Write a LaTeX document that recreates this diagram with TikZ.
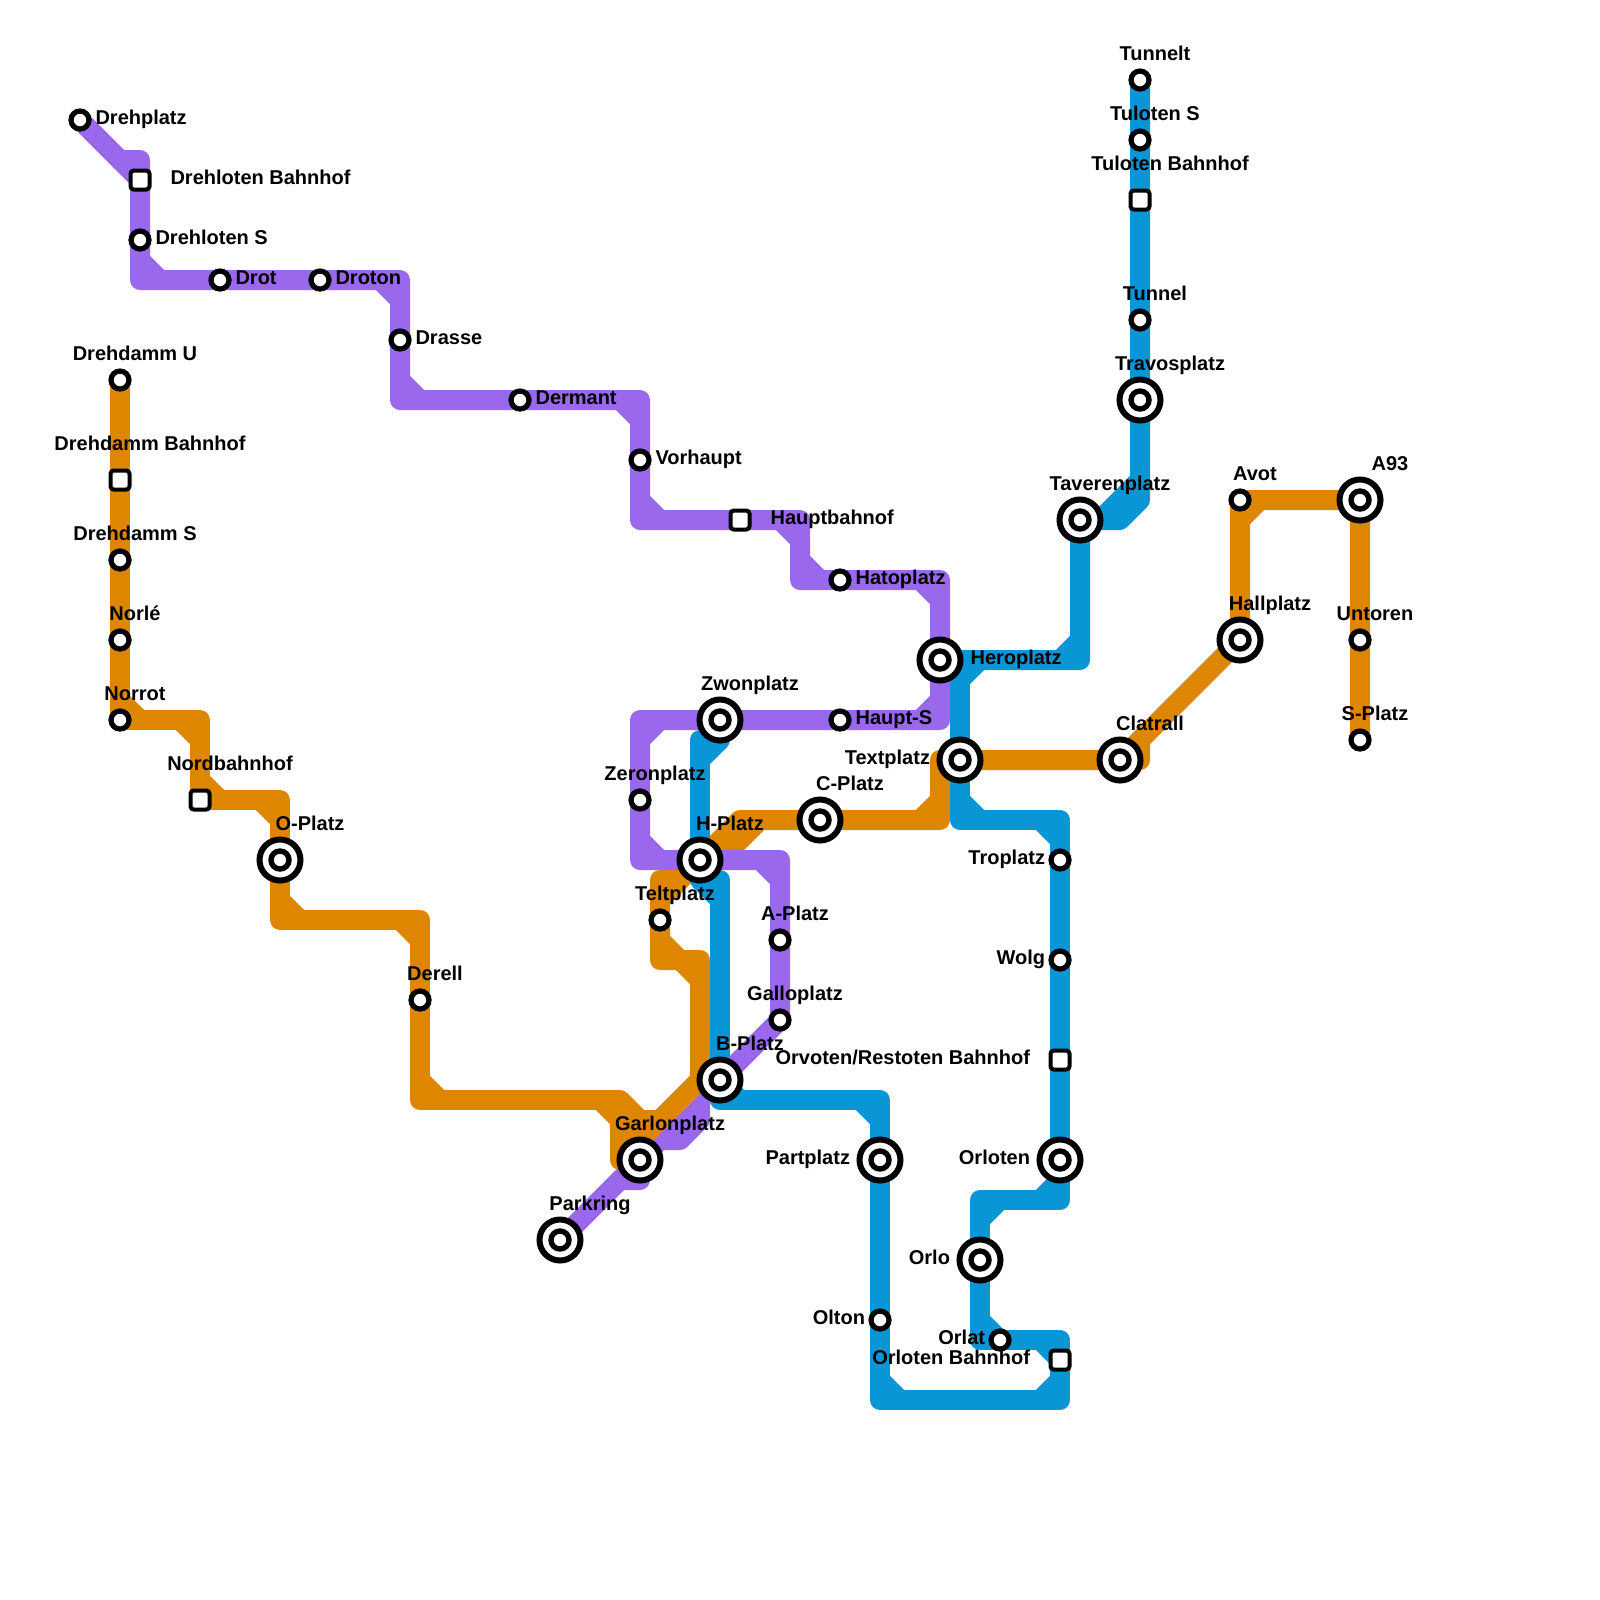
\documentclass[tikz,border=0pt]{standalone}
\usepackage{fontspec}
\setmainfont{Liberation Sans}
\usetikzlibrary{backgrounds}
\definecolor{purpleline}{HTML}{9968EC}
\definecolor{orangeline}{HTML}{DF8600}
\definecolor{blueline}{HTML}{0896D7}
\tikzset{
  smallstop/.style={circle, draw=black, fill=white, line width=0.065cm, inner sep=0pt, minimum size=0.225cm},
  bigstop/.style={circle, draw=black, fill=white, line width=0.075cm, inner sep=0pt, minimum size=0.5125cm,
    path picture={\draw[line width=0.0675cm] (path picture bounding box.center) circle (0.1125cm);}},
  squarestop/.style={rectangle, rounded corners=0.04cm, draw=black, fill=white, line width=0.05cm, inner sep=0pt, minimum size=0.2375cm},
  lab/.style={font=\fontsize{7.11}{8.5}\selectfont\bfseries, inner sep=0pt},
  smalltop/.style={lab, anchor=base, xshift=0.1875cm, yshift=0.25cm},
  bigtop/.style={lab, anchor=base, xshift=0.375cm, yshift=0.375cm},
  smallright/.style={lab, anchor=base west, xshift=0.1875cm, yshift=-0.06cm},
  bigright/.style={lab, anchor=base west, xshift=0.375cm, yshift=-0.06cm},
  smallleft/.style={lab, anchor=base east, xshift=-0.18cm, yshift=-0.06cm},
  bigleft/.style={lab, anchor=base east, xshift=-0.368cm, yshift=-0.06cm},
  purplepath/.style={draw=purpleline, line width=0.25cm, line join=round},
  orangepath/.style={draw=orangeline, line width=0.25cm, line join=round},
  bluepath/.style={draw=blueline, line width=0.25cm, line join=round}
}
\begin{document}
\begin{tikzpicture}[x=0.25cm, y=-0.25cm]
  \useasboundingbox (0,0) rectangle (80,80);
  % purple stations
  \node[smallstop] (drehplatz) at (4,6) {}; \node[smallright] (drehplatzlab) at (drehplatz) {Drehplatz};
  \node[squarestop] (drehlotenb) at (7,9) {}; \node[bigright] (drehlotenblab) at (drehlotenb) {Drehloten Bahnhof};
  \node[smallstop] (drehlotens) at (7,12) {}; \node[smallright] (drehlotenslab) at (drehlotens) {Drehloten S};
  \node[smallstop] (drot) at (11,14) {}; \node[smallright] (drotlab) at (drot) {Drot};
  \node[smallstop] (droton) at (16,14) {}; \node[smallright] (drotonlab) at (droton) {Droton};
  \node[smallstop] (drasse) at (20,17) {}; \node[smallright] (drasselab) at (drasse) {Drasse};
  \node[smallstop] (dermant) at (26,20) {}; \node[smallright] (dermantlab) at (dermant) {Dermant};
  \node[smallstop] (vorhaupt) at (32,23) {}; \node[smallright] (vorhauptlab) at (vorhaupt) {Vorhaupt};
  \node[squarestop] (hauptb) at (37,26) {}; \node[bigright] (hauptblab) at (hauptb) {Hauptbahnof};
  \node[smallstop] (hatoplatz) at (42,29) {}; \node[smallright] (hatoplatzlab) at (hatoplatz) {Hatoplatz};
  \node[bigstop] (heroplatz) at (47,33) {}; \node[bigright] (heroplatzlab) at (heroplatz) {Heroplatz};
  \node[smallstop] (haupts) at (42,36) {}; \node[smallright] (hauptslab) at (haupts) {Haupt-S};
  \node[bigstop] (zwonplatz) at (36,36) {}; \node[bigtop] (zwonplatzlab) at (zwonplatz) {Zwonplatz};
  \node[smallstop] (zeronplatz) at (32,40) {}; \node[smalltop] (zeronplatzlab) at (zeronplatz) {Zeronplatz};
  \node[bigstop] (hplatz) at (35,43) {}; \node[bigtop] (hplatzlab) at (hplatz) {H-Platz};
  \node[smallstop] (aplatz) at (39,47) {}; \node[smalltop] (aplatzlab) at (aplatz) {A-Platz};
  \node[smallstop] (galloplatz) at (39,51) {}; \node[smalltop] (galloplatzlab) at (galloplatz) {Galloplatz};
  \node[bigstop] (bplatz) at (36,54) {}; \node[bigtop] (bplatzlab) at (bplatz) {B-Platz};
  \node[bigstop] (garlonplatz) at (32,58) {}; \node[bigtop] (garlonplatzlab) at (garlonplatz) {Garlonplatz};
  \node[bigstop] (parkring) at (28,62) {}; \node[bigtop] (parkringlab) at (parkring) {Parkring};
  % orange stations
  \node[smallstop] (drehdammu) at (6,19) {}; \node[smalltop] (drehdammulab) at (drehdammu) {Drehdamm U};
  \node[squarestop] (drehdammb) at (6,24) {}; \node[bigtop] (drehdammblab) at (drehdammb) {Drehdamm Bahnhof};
  \node[smallstop] (drehdamms) at (6,28) {}; \node[smalltop] (drehdammslab) at (drehdamms) {Drehdamm S};
  \node[smallstop] (norle) at (6,32) {}; \node[smalltop] (norlelab) at (norle) {Norlé};
  \node[smallstop] (norrot) at (6,36) {}; \node[smalltop] (norrotlab) at (norrot) {Norrot};
  \node[squarestop] (nordb) at (10,40) {}; \node[bigtop] (nordblab) at (nordb) {Nordbahnhof};
  \node[bigstop] (oplatz) at (14,43) {}; \node[bigtop] (oplatzlab) at (oplatz) {O-Platz};
  \node[smallstop] (derell) at (21,50) {}; \node[smalltop] (derelllab) at (derell) {Derell};
  \node[smallstop] (teltplatz) at (33,46) {}; \node[smalltop] (teltplatzlab) at (teltplatz) {Teltplatz};
  \node[bigstop] (cplatz) at (41,41) {}; \node[bigtop] (cplatzlab) at (cplatz) {C-Platz};
  \node[bigstop] (textplatz) at (48,38) {}; \node[bigleft] (textplatzlab) at (textplatz) {Textplatz};
  \node[bigstop] (clatrall) at (56,38) {}; \node[bigtop] (clatralllab) at (clatrall) {Clatrall};
  \node[bigstop] (hallplatz) at (62,32) {}; \node[bigtop] (hallplatzlab) at (hallplatz) {Hallplatz};
  \node[smallstop] (avot) at (62,25) {}; \node[smalltop] (avotlab) at (avot) {Avot};
  \node[bigstop] (aneun) at (68,25) {}; \node[bigtop] (aneunlab) at (aneun) {A93};
  \node[smallstop] (untoren) at (68,32) {}; \node[smalltop] (untorenlab) at (untoren) {Untoren};
  \node[smallstop] (splatz) at (68,37) {}; \node[smalltop] (splatzlab) at (splatz) {S-Platz};
  % blue stations
  \node[smallstop] (tunnelt) at (57,4) {}; \node[smalltop] (tunneltlab) at (tunnelt) {Tunnelt};
  \node[smallstop] (tulotens) at (57,7) {}; \node[smalltop] (tulotenslab) at (tulotens) {Tuloten S};
  \node[squarestop] (tulotenb) at (57,10) {}; \node[bigtop] (tulotenblab) at (tulotenb) {Tuloten Bahnhof};
  \node[smallstop] (tunnel) at (57,16) {}; \node[smalltop] (tunnellab) at (tunnel) {Tunnel};
  \node[bigstop] (travosplatz) at (57,20) {}; \node[bigtop] (travosplatzlab) at (travosplatz) {Travosplatz};
  \node[bigstop] (taverenplatz) at (54,26) {}; \node[bigtop] (taverenplatzlab) at (taverenplatz) {Taverenplatz};
  \node[smallstop] (troplatz) at (53,43) {}; \node[smallleft] (troplatzlab) at (troplatz) {Troplatz};
  \node[smallstop] (wolg) at (53,48) {}; \node[smallleft] (wolglab) at (wolg) {Wolg};
  \node[squarestop] (orvotenb) at (53,53) {}; \node[bigleft] (orvotenblab) at (orvotenb) {Orvoten/Restoten Bahnhof};
  \node[bigstop] (orloten) at (53,58) {}; \node[bigleft] (orlotenlab) at (orloten) {Orloten};
  \node[bigstop] (orlo) at (49,63) {}; \node[bigleft] (orlolab) at (orlo) {Orlo};
  \node[smallstop] (orlat) at (50,67) {}; \node[smallleft] (orlatlab) at (orlat) {Orlat};
  \node[squarestop] (orlotenb) at (53,68) {}; \node[bigleft] (orlotenblab) at (orlotenb) {Orloten Bahnhof};
  \node[smallstop] (olton) at (44,66) {}; \node[smallleft] (oltonlab) at (olton) {Olton};
  \node[bigstop] (partplatz) at (44,58) {}; \node[bigleft] (partplatzlab) at (partplatz) {Partplatz};
  % bends
  \coordinate (pc1) at (6,8);
  \coordinate (pc2) at (7,8);
  \coordinate (pc3) at (7,14);
  \coordinate (pc4) at (20,14);
  \coordinate (pc5) at (20,20);
  \coordinate (pc6) at (32,20);
  \coordinate (pc7) at (32,26);
  \coordinate (pc8) at (40,26);
  \coordinate (pc9) at (40,29);
  \coordinate (pc10) at (47,29);
  \coordinate (pc11) at (47,36);
  \coordinate (pc12) at (32,36);
  \coordinate (pc13) at (32,43);
  \coordinate (pc14) at (39,43);
  \coordinate (pc15) at (35,55);
  \coordinate (pc16) at (35,56);
  \coordinate (pc17) at (34,57);
  \coordinate (pc18) at (32,57);
  \coordinate (pc19) at (32,59);
  \coordinate (pc20) at (31,59);
  \coordinate (oc1) at (10,36);
  \coordinate (oc2) at (14,40);
  \coordinate (oc3) at (14,46);
  \coordinate (oc4) at (21,46);
  \coordinate (oc5) at (21,55);
  \coordinate (oc6) at (31,55);
  \coordinate (oc7) at (31,58);
  \coordinate (oc8) at (32,56);
  \coordinate (oc9) at (33,56);
  \coordinate (oc10) at (35,54);
  \coordinate (oc11) at (35,48);
  \coordinate (oc12) at (33,48);
  \coordinate (oc13) at (33,44);
  \coordinate (oc14) at (34,44);
  \coordinate (oc15) at (37,41);
  \coordinate (oc16) at (47,41);
  \coordinate (oc17) at (47,38);
  \coordinate (oc18) at (57,38);
  \coordinate (oc19) at (57,37);
  \coordinate (bc1) at (57,25);
  \coordinate (bc2) at (56,26);
  \coordinate (bc3) at (54,33);
  \coordinate (bc4) at (48,33);
  \coordinate (bc5) at (48,41);
  \coordinate (bc6) at (53,41);
  \coordinate (bc7) at (53,60);
  \coordinate (bc8) at (49,60);
  \coordinate (bc9) at (49,67);
  \coordinate (bc10) at (53,67);
  \coordinate (bc11) at (53,70);
  \coordinate (bc12) at (44,70);
  \coordinate (bc13) at (44,55);
  \coordinate (bc14) at (36,55);
  \coordinate (bc15) at (36,44);
  \coordinate (bc16) at (35,44);
  \coordinate (bc17) at (35,37);
  \coordinate (bc18) at (36,37);
  \begin{scope}[on background layer]
    % orange under the others
    \draw[orangepath] (hplatz.center) -- (oc15) -- (cplatz.center) -- (oc16) -- (oc17) -- (textplatz.center) -- (clatrall.center) -- (oc18) -- (oc19) -- (hallplatz.center) -- (avot.center) -- (aneun.center) -- (untoren.center) -- (splatz.center);
    \draw[orangepath] (oc15) ++(-1,2) -- ++(2,-2) (oc16) ++(-1,0) -- ++(1,-1) (clatrall.center) -- ++(1,-1) (avot.center) ++(0,1) -- ++(1,-1);
    \draw[orangepath] (oc10) -- (oc11) -- (oc12) -- (teltplatz.center) -- (oc13) -- (oc14) -- (hplatz.center);
    \draw[orangepath] (oc11) ++(-1,0) -- ++(1,1) (oc12) ++(0,-1) -- ++(1,1) (oc13) ++(0,1) -- ++(1,-1);
    % blue
    \draw[bluepath] (tunnelt.center) -- (tulotens.center) -- (tulotenb.center) -- (tunnel.center) -- (travosplatz.center) -- (bc1) -- (bc2) -- (taverenplatz.center) -- (bc3) -- (heroplatz.center);
    \draw[bluepath] (bc4) -- (textplatz.center) -- (bc5) -- (bc6) -- (troplatz.center) -- (wolg.center) -- (orvotenb.center) -- (orloten.center) -- (bc7) -- (bc8) -- (orlo.center) -- (bc9) -- (orlat.center) -- (bc10) -- (orlotenb.center) -- (bc11) -- (bc12) -- (olton.center) -- (partplatz.center) -- (bc13) -- (bc14) -- (bplatz.center) -- (bc15) -- (bc16) -- (hplatz.center) -- (bc17) -- (bc18) -- (zwonplatz.center);
    \draw[bluepath] (bc1) ++(0,-1) -- ++(-2,2) (bc3) ++(-1,0) -- ++(1,-1) (bc4) ++(0,1) -- ++(1,-1) (bc5) ++(0,-1) -- ++(1,1) (bc6) ++(-1,0) -- ++(1,1);
    \draw[bluepath] (bc7) ++(0,-1) -- ++(-1,1) (bc8) ++(1,0) -- ++(-1,1) (bc9) ++(0,-1) -- ++(1,1) (bc10) ++(-1,0) -- ++(1,1) (bc11) ++(0,-1) -- ++(-1,1);
    \draw[bluepath] (bc12) ++(1,0) -- ++(-1,-1) (bc13) ++(-1,0) -- ++(1,1) (bc14) ++(0,-1) -- ++(1,1) (bc15) ++(-1,0) -- ++(1,1) (bc17) ++(0,1) -- ++(1,-1);
    % purple
    \draw[purplepath] (drehplatz.center) -- (pc1) -- (pc2) -- (drehlotenb.center) -- (drehlotens.center) -- (pc3) -- (drot.center) -- (droton.center) -- (pc4) -- (drasse.center) -- (pc5) -- (dermant.center) -- (pc6) -- (vorhaupt.center) -- (pc7) -- (hauptb.center) -- (pc8) -- (pc9) -- (hatoplatz.center) -- (pc10) -- (heroplatz.center) -- (pc11) -- (haupts.center) -- (zwonplatz.center) -- (pc12) -- (zeronplatz.center) -- (pc13) -- (hplatz.center) -- (pc14) -- (aplatz.center) -- (galloplatz.center) -- (bplatz.center) -- (pc15) -- (pc16) -- (pc17) -- (pc18) -- (garlonplatz.center) -- (pc19) -- (pc20) -- (parkring.center);
    \draw[purplepath] (pc1) -- ++(1,1) (pc3) ++(0,-1) -- ++(1,1) (pc4) ++(-1,0) -- ++(1,1) (pc5) ++(0,-1) -- ++(1,1) (pc6) ++(-1,0) -- ++(1,1) (pc7) ++(0,-1) -- ++(1,1);
    \draw[purplepath] (pc8) ++(-1,0) -- ++(1,1) (pc9) ++(0,-1) -- ++(1,1) (pc10) ++(-1,0) -- ++(1,1) (pc11) ++(0,-1) -- ++(-1,1) (pc12) ++(1,0) -- ++(-1,1);
    \draw[purplepath] (pc13) ++(0,-1) -- ++(1,1) (pc14) ++(-1,0) -- ++(1,1) (pc15) -- ++(-4,4);
    % orange over purple at Garlonplatz
    \draw[orangepath] (drehdammu.center) -- (drehdammb.center) -- (drehdamms.center) -- (norle.center) -- (norrot.center) -- (oc1) -- (nordb.center) -- (oc2) -- (oplatz.center) -- (oc3) -- (oc4) -- (derell.center) -- (oc5) -- (oc6) -- (oc7) -- (garlonplatz.center);
    \draw[orangepath] (oc6) -- (oc8) -- (oc9) -- (oc10) -- (bplatz.center);
    \draw[orangepath] (norrot.center) ++(0,-1) -- ++(1,1) (oc1) ++(-1,0) -- ++(1,1) (nordb.center) ++(0,-1) -- ++(1,1) (oc2) ++(-1,0) -- ++(1,1) (oc3) ++(0,-1) -- ++(1,1);
    \draw[orangepath] (oc4) ++(-1,0) -- ++(1,1) (oc5) ++(0,-1) -- ++(1,1) (oc6) ++(-1,0) -- ++(2,2) (oc7) ++(0,-1) -- ++(1,1) (oc10) -- ++(-3,3);
  \end{scope}
\end{tikzpicture}
\end{document}
